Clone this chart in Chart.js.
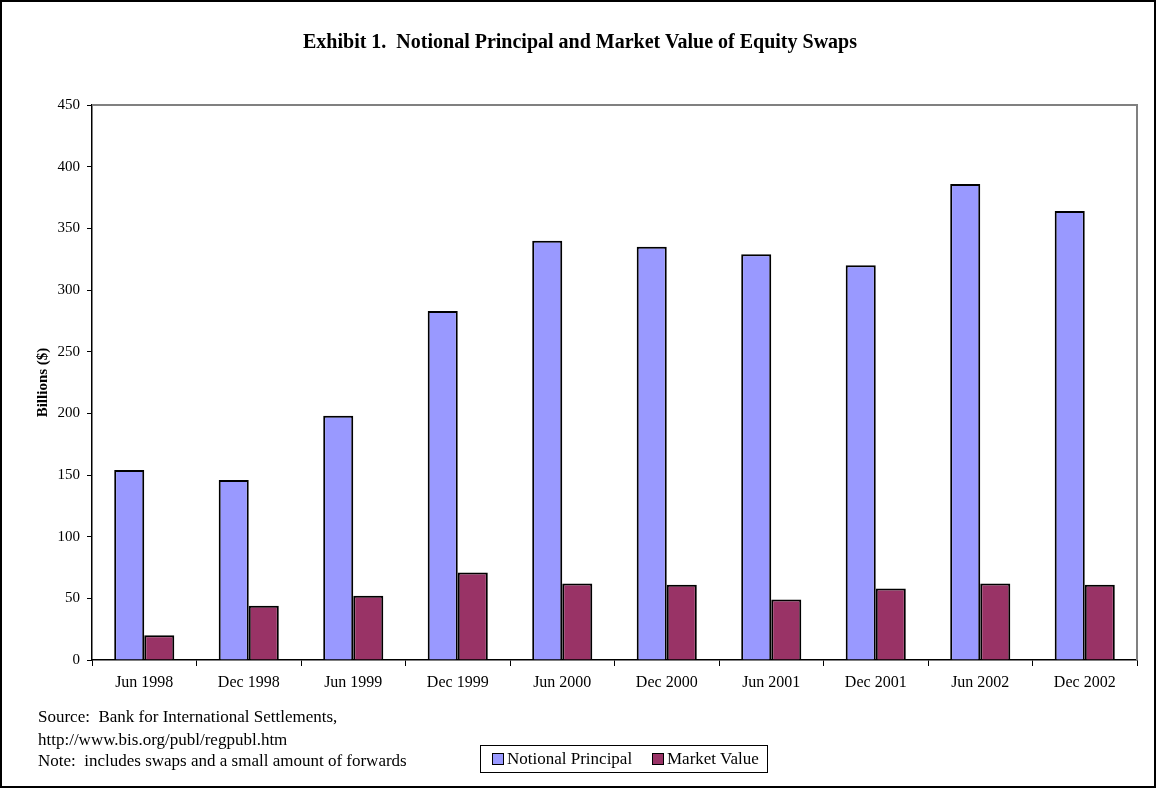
<!DOCTYPE html>
<html>
<head>
<meta charset="utf-8">
<script src="https://cdn.jsdelivr.net/npm/chart.js@4"></script>
<style>
	body { margin: 0; background: #fff; font-family: "Liberation Serif", "Times New Roman", serif; }
	#wrap { position: relative; width: 1156px; height: 788px; }
	#frame { position: absolute; left: 0; top: 0; width: 1152px; height: 784px; border: 2px solid #000; pointer-events: none; }
	#title { position: absolute; left: 0; width: 1160px; top: 30px; text-align: center; font-weight: bold; font-size: 20px; white-space: pre; }
	.note { position: absolute; left: 38px; font-size: 17px; white-space: pre; }
	#legend { position: absolute; left: 480px; top: 745px; width: 286px; height: 26px; border: 1px solid #000; font-size: 17px; }
	.item { position: absolute; top: 3px; white-space: nowrap; }
	.box { display: inline-block; width: 10px; height: 10px; border: 1px solid #000; margin-right: 3px; vertical-align: -1px; }
</style>
</head>
<body>
<div id="wrap">
	<canvas id="chart" width="1156" height="788"></canvas>
	<div id="title">Exhibit 1.  Notional Principal and Market Value of Equity Swaps</div>
	<div class="note" style="top:707px">Source:  Bank for International Settlements,</div>
	<div class="note" style="top:730px">http://www.bis.org/publ/regpubl.htm</div>
	<div class="note" style="top:751px">Note:  includes swaps and a small amount of forwards</div>
	<div id="legend"></div>
	<div id="frame"></div>
</div>
<script>
// Data (billions of dollars)
const periods = ["Jun 1998", "Dec 1998", "Jun 1999", "Dec 1999", "Jun 2000",
	"Dec 2000", "Jun 2001", "Dec 2001", "Jun 2002", "Dec 2002"];
const notionalPrincipal = [154, 146, 198, 283, 340, 335, 329, 320, 386, 364];
const marketValue = [20, 44, 52, 71, 62, 61, 49, 58, 62, 61];
const seriesNames = ["Notional Principal", "Market Value"];
const seriesColors = ["#9999FF", "#993366"];

const serif = "'Liberation Serif', 'Times New Roman', serif";

// gray border along top and right of the plot area
const plotBorder = {
	id: "plotBorder",
	beforeDatasetsDraw(chart) {
		const { ctx, chartArea: a } = chart;
		ctx.save();
		ctx.strokeStyle = "#808080";
		ctx.lineWidth = 2;
		ctx.beginPath();
		ctx.moveTo(a.left, a.top);
		ctx.lineTo(a.right, a.top);
		ctx.lineTo(a.right, a.bottom);
		ctx.stroke();
		ctx.restore();
	},
};

const chart = new Chart(document.getElementById("chart").getContext("2d"), {
	type: "bar",
	data: {
		labels: periods,
		datasets: [notionalPrincipal, marketValue].map((values, i) => ({
			label: seriesNames[i],
			data: values,
			backgroundColor: seriesColors[i],
			borderColor: "#000",
			borderWidth: 2,
			barPercentage: 1,
			categoryPercentage: 0.575,
		})),
	},
	options: {
		responsive: false,
		animation: false,
		layout: { padding: { top: 105, left: 0, right: 19, bottom: 88 } },
		plugins: { legend: { display: false }, tooltip: { enabled: false } },
		scales: {
			x: {
				grid: { offset: true, drawOnChartArea: false, drawTicks: true, tickLength: 6, color: "#000" },
				border: { color: "#000", width: 1.5 },
				ticks: { color: "#000", font: { family: serif, size: 16 }, padding: 7, maxRotation: 0 },
				afterFit(scale) { scale.height = 40; },
			},
			y: {
				min: 0,
				max: 450,
				ticks: { stepSize: 50, color: "#000", font: { family: serif, size: 15 }, padding: 7 },
				grid: { drawOnChartArea: false, drawTicks: true, tickLength: 5, color: "#000" },
				border: { color: "#000", width: 1.5 },
				title: {
					display: true,
					text: "Billions ($)",
					color: "#000",
					font: { family: serif, size: 15, weight: "bold" },
					padding: { top: 34 },
				},
				afterFit(scale) { scale.width = 92; },
			},
		},
	},
	plugins: [plotBorder],
});

// legend built from the datasets
const legend = document.getElementById("legend");
const legendX = [11, 171];
chart.data.datasets.forEach((ds, i) => {
	const el = document.createElement("span");
	el.className = "item";
	el.style.left = legendX[i] + "px";
	el.innerHTML = `<span class="box" style="background:${ds.backgroundColor}"></span>${ds.label}`;
	legend.appendChild(el);
});
</script>
</body>
</html>
